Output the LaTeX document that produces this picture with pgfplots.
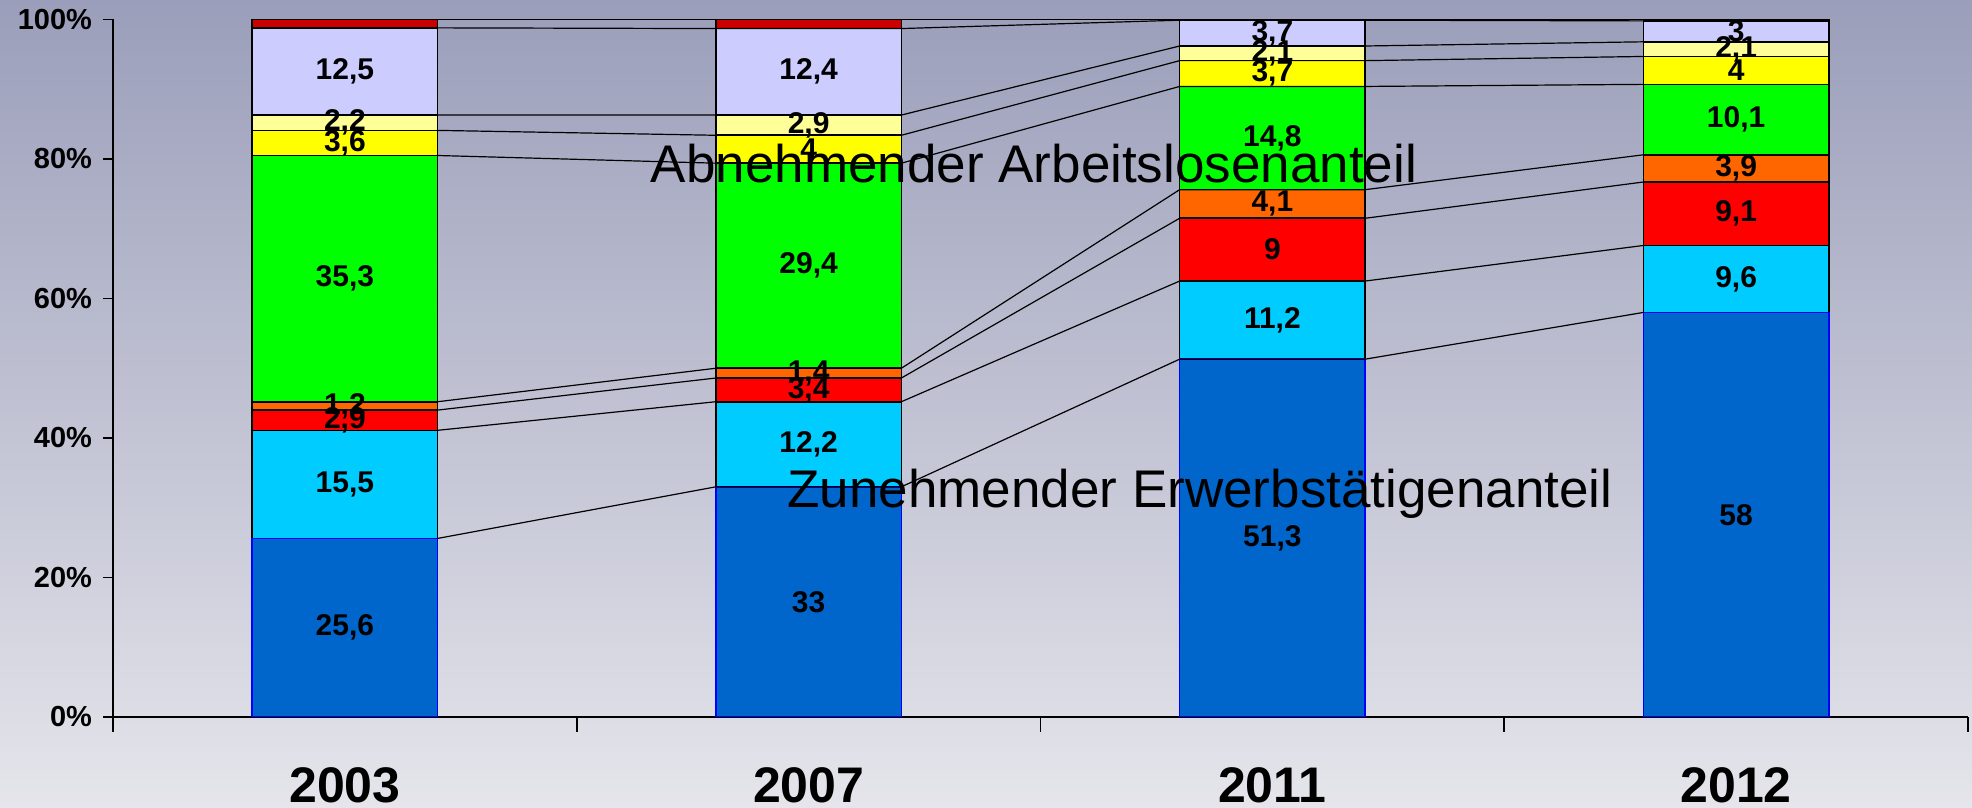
\documentclass[border=0pt]{standalone}
\usepackage{pgfplots}
\pgfplotsset{compat=1.18}
\usepackage{pgfplotstable}
\usepackage{fontspec}
\setmainfont{Liberation Sans}
\definecolor{cDB}{HTML}{0066CC}
\definecolor{cLB}{HTML}{00CCFF}
\definecolor{cRD}{HTML}{FF0000}
\definecolor{cOR}{HTML}{FF6600}
\definecolor{cGR}{HTML}{00FF00}
\definecolor{cYE}{HTML}{FFFF00}
\definecolor{cLY}{HTML}{FFFF99}
\definecolor{cLV}{HTML}{CCCCFF}
\definecolor{cDR}{HTML}{CC0000}
\definecolor{bgTop}{HTML}{9B9EBA}
\definecolor{bgBot}{HTML}{E5E5EB}

\pgfplotstableread{
x blue lblue red orange green yellow lyellow lav dred
0 25.6 15.5 2.9 1.2 35.3 3.6 2.2 12.5 1.2
1 33.0 12.2 3.4 1.4 29.4 4.0 2.9 12.4 1.3
2 51.3 11.2 9.0 4.1 14.8 3.7 2.1 3.7 0.1
3 58.0 9.6 9.1 3.9 10.1 4.0 2.1 3.0 0.2
}\bars

\pgfplotstableread{
x c1 c2 c3 c4 c5 c6 c7 c8 c9
0.2 25.6 41.1 44.0 45.2 80.5 84.1 86.3 98.8 100
0.8 33.0 45.2 48.6 50.0 79.4 83.4 86.3 98.7 100
1.2 33.0 45.2 48.6 50.0 79.4 83.4 86.3 98.7 100
1.8 51.3 62.5 71.5 75.6 90.4 94.1 96.2 99.9 100
2.2 51.3 62.5 71.5 75.6 90.4 94.1 96.2 99.9 100
2.8 58.0 67.6 76.7 80.6 90.7 94.7 96.8 99.8 100
}\cum

\pgfplotstableread{
x y lab
0 12.8 25,6
0 33.35 15,5
0 42.55 2,9
0 44.6 1,2
0 62.85 35,3
0 82.3 3,6
0 85.2 2,2
0 92.55 12,5
1 16.5 33
1 39.1 12,2
1 46.9 3,4
1 49.3 1,4
1 64.7 29,4
1 81.4 4
1 84.85 2,9
1 92.5 12,4
2 25.65 51,3
2 56.9 11,2
2 67.0 9
2 73.55 4,1
2 83.0 14,8
2 92.25 3,7
2 95.15 2,1
2 98.05 3,7
3 29.0 58
3 62.8 9,6
3 72.15 9,1
3 78.65 3,9
3 85.65 10,1
3 92.7 4
3 95.75 2,1
3 98.3 3
}\labels

\begin{document}
\begin{tikzpicture}
\useasboundingbox (-56.5pt,-45.5pt) rectangle (929.5pt,358.5pt);
\shade[top color=bgTop, bottom color=bgBot] (-56.5pt,-45.5pt) rectangle (929.5pt,358.5pt);
\begin{axis}[
  width=927.5pt, height=348.75pt, scale only axis,
  xmin=-0.5, xmax=3.5, ymin=0, ymax=100,
  ybar stacked, bar width=0.4,
  axis lines*=left,
  axis line style={line width=0.7pt, black},
  tick align=outside,
  major tick length=0pt,
  xtick={0,1,2,3},
  xticklabels={2003,2007,2011,2012},
  xticklabel style={anchor=north, inner sep=0pt, yshift=-25pt,
    font=\fontsize{25}{30}\selectfont\bfseries},
  extra x ticks={-0.5,0.5,1.5,2.5,3.5},
  extra x tick labels={},
  extra x tick style={major tick length=7.5pt, tick style={line width=0.9pt, black}},
  ytick={0,20,40,60,80,100},
  yticklabels={0\%,20\%,40\%,60\%,80\%,100\%},
  yticklabel style={xshift=-7pt, font=\fontsize{14.5}{17}\selectfont\bfseries},
  extra y ticks={0,20,40,60,80,100},
  extra y tick labels={},
  extra y tick style={major tick length=5pt, tick style={line width=0.7pt, black}},
]
\addplot[fill=cDB, draw=blue, line width=0.8pt] table[x=x, y=blue] {\bars};
\addplot[fill=cLB, draw=black, line width=0.8pt] table[x=x, y=lblue] {\bars};
\addplot[fill=cRD, draw=black, line width=0.8pt] table[x=x, y=red] {\bars};
\addplot[fill=cOR, draw=black, line width=0.8pt] table[x=x, y=orange] {\bars};
\addplot[fill=cGR, draw=black, line width=0.8pt] table[x=x, y=green] {\bars};
\addplot[fill=cYE, draw=black, line width=0.8pt] table[x=x, y=yellow] {\bars};
\addplot[fill=cLY, draw=black, line width=0.8pt] table[x=x, y=lyellow] {\bars};
\addplot[fill=cLV, draw=black, line width=0.8pt] table[x=x, y=lav] {\bars};
\addplot[fill=cDR, draw=black, line width=0.8pt] table[x=x, y=dred] {\bars};
\end{axis}
\begin{axis}[
  width=927.5pt, height=348.75pt, scale only axis,
  xmin=-0.5, xmax=3.5, ymin=0, ymax=100,
  hide axis, clip=false,
]
\foreach \c in {c1,c2,c3,c4,c5,c6,c7,c8,c9}{
  \addplot[black, line width=0.6pt, mark=none] table[x=x, y=\c] {\cum};
}
\addplot[draw=none, mark=none, nodes near coords, point meta=explicit symbolic,
  every node near coord/.append style={anchor=center, inner sep=0pt,
    font=\fontsize{15}{17}\selectfont\bfseries}]
  table[x=x, y=y, meta=lab] {\labels};
\node[anchor=base, font=\fontsize{26.5}{30}\selectfont] at (axis cs:1.486,76.7) {Abnehmender Arbeitslosenanteil};
\node[anchor=base, font=\fontsize{26.5}{30}\selectfont] at (axis cs:1.844,30.0) {Zunehmender Erwerbstätigenanteil};
\end{axis}
\end{tikzpicture}
\end{document}
